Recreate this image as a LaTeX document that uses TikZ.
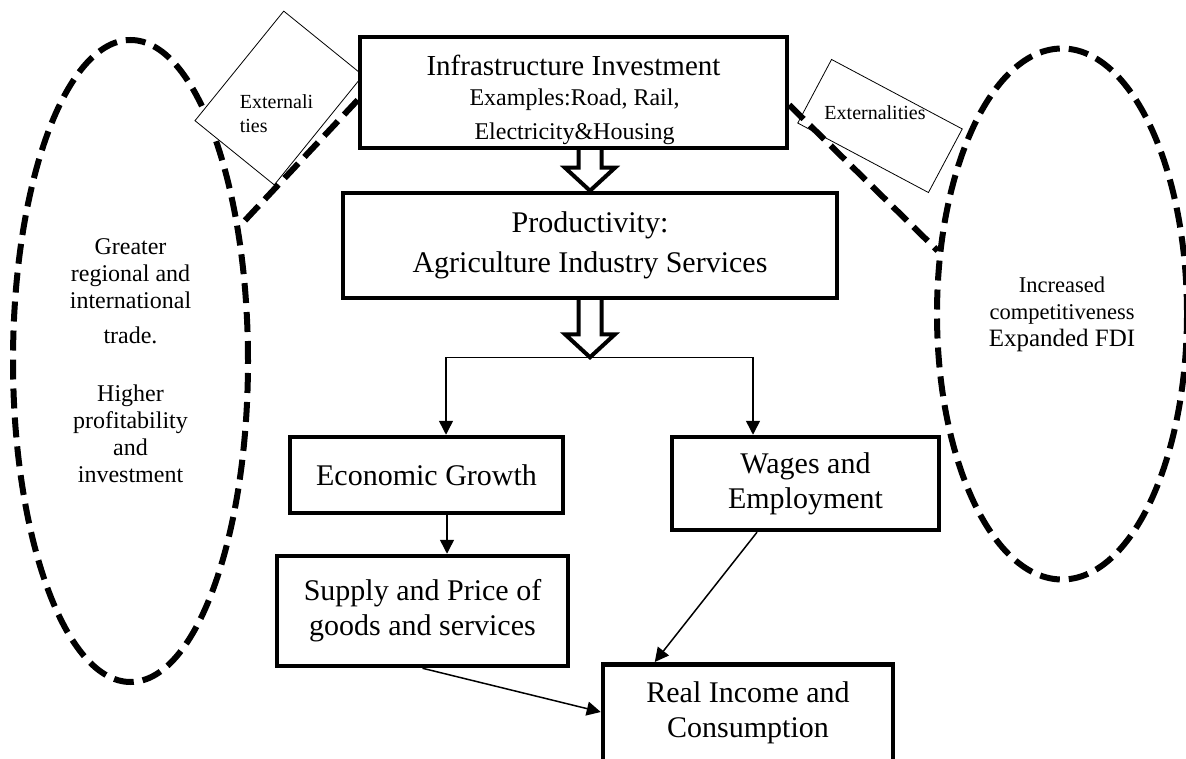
\documentclass[tikz,border=0pt]{standalone}
\usepackage{fontspec}
\setmainfont{Liberation Serif}
\usetikzlibrary{arrows.meta,shapes.geometric,calc}

% open (hollow) downward block arrow: #1 = start on the upper box, #2 = tip
\newcommand{\hollowdown}[2]{%
  \draw[hollow] ($(#1)+(-11.5,0)$) -- ($(#2)+(-11.5,-23)$) -- ($(#2)+(-25,-23)$)
    -- (#2) -- ($(#2)+(25,-23)$) -- ($(#2)+(11.5,-23)$) -- ($(#1)+(11.5,0)$);}

\begin{document}
\begin{tikzpicture}[x=1pt,y=-1pt,
  mainbox/.style={draw,line width=4.5pt,fill=white,inner sep=0pt,align=center,
    font=\fontsize{30}{35}\selectfont},
  extbox/.style={draw,line width=0.8pt,fill=white,inner sep=0pt},
  oval/.style={ellipse,draw,line width=6pt,dash pattern=on 20pt off 9pt,
    inner sep=0pt,align=center},
  dashlink/.style={line width=6pt,dash pattern=on 20pt off 9pt},
  conn/.style={line width=1.5pt,-{Triangle[length=14pt,width=14pt]}},
  hollow/.style={line width=4pt,fill=white,line join=miter},
  plain/.style={inner sep=0pt}
]
\useasboundingbox (0,0) rectangle (1186,759);
\fill[white] (0,0) rectangle (1186,759);

% dashed side ovals
\node[oval,minimum width=235pt,minimum height=642pt,
  font=\fontsize{24}{27}\selectfont] (lell) at (130.5,361)
  {Greater\\regional and\\international\\[8pt]trade.\\[31pt]Higher\\profitability\\and\\investment};
\node[oval,minimum width=250pt,minimum height=531pt,
  font=\fontsize{22.5}{27}\selectfont] (rell) at (1062,314)
  {Increased\\competitiveness\\{\fontsize{25}{27}\selectfont Expanded FDI}};

% externality tags
\node[extbox,rotate=51,minimum width=141pt,minimum height=102pt] (lext) at (279,98) {};
\node[plain,align=left,font=\fontsize{20}{24}\selectfont] (lextt) at (276.5,114) {Externali\\ties};
\node[extbox,rotate=-28,minimum width=148pt,minimum height=72pt] (rext) at (880,126) {};
\node[plain,font=\fontsize{20}{24}\selectfont] (rextt) at (875,113) {Externalities};

% main chain of boxes
\node[mainbox,minimum width=427pt,minimum height=111pt] (infra) at (573.5,92.5) {};
\node[plain,anchor=base,font=\fontsize{29}{30}\selectfont] (infra1) at (573.5,76) {Infrastructure Investment};
\node[plain,anchor=base,font=\fontsize{24}{28}\selectfont] (infra2) at (574.5,106) {Examples:Road, Rail,};
\begin{scope}
  \clip (infra.north west) rectangle ($(infra.south east)+(0,-4.5)$);
  \node[plain,anchor=base,font=\fontsize{24}{28}\selectfont] (infra3) at (574.5,140) {Electricity\&Housing};
\end{scope}

\node[mainbox,minimum width=494pt,minimum height=105pt,
  font=\fontsize{30}{40}\selectfont] (prod) at (590,245.5)
  {Productivity:\\Agriculture Industry Services};
\node[mainbox,minimum width=273pt,minimum height=76pt] (econ) at (426.5,475) {Economic Growth};
\node[mainbox,minimum width=267pt,minimum height=93pt] (wages) at (805.5,483.5) {Wages and\\Employment};
\node[mainbox,minimum width=291pt,minimum height=110pt] (supply) at (422.5,611) {Supply and Price of\\goods and services};
\node[mainbox,anchor=north,minimum width=290pt,minimum height=130pt] (rinc) at (748,662) {};
\node[plain,align=center,font=\fontsize{30}{35}\selectfont] (rinct) at (748,712.5) {Real Income and\\Consumption};

% dashed links from the investment box to the ovals
\draw[dashlink] ($(infra.west)+(0,7.5)$) -- (lell.51);
\draw[dashlink] ($(infra.east)+(0,12.5)$) -- (rell.153);

% block arrows
\coordinate (split) at ($(prod.south)+(0,57)$);
\hollowdown{prod.north |- infra.south}{prod.north}
\hollowdown{prod.south}{split}

% thin connectors
\draw[conn] (split) -| ([xshift=19.5pt]econ.north);
\draw[conn] (split) -| ([xshift=-52.5pt]wages.north);
\draw[conn] ([xshift=20.5pt]econ.south) -- ([xshift=20.5pt]econ.south |- supply.north);
\draw[conn] (supply.south) -- ($(rinc.north west)+(0,50)$);
\draw[conn] ([xshift=-48.5pt]wages.south) -- ($(rinc.north west)+(54,0)$);
\end{tikzpicture}
\end{document}
